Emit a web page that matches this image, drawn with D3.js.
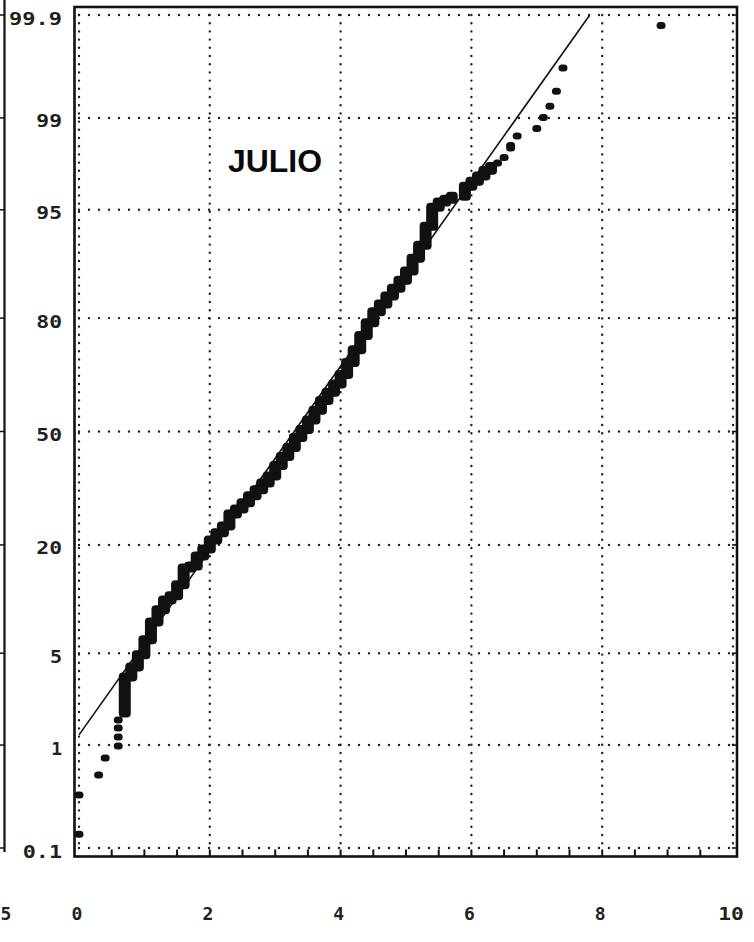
<!DOCTYPE html>
<html><head><meta charset="utf-8">
<script src="https://cdn.jsdelivr.net/npm/d3@7"></script>
<style>html,body{margin:0;padding:0;background:#fff;}svg{display:block}</style>
</head><body>
<svg id="chart" width="754" height="942"></svg>
<script>
// ---------- data ----------
const title = "JULIO";
const xTicks = [0, 2, 4, 6, 8, 10];
const xTickLabels = ["0", "2", "4", "6", "8", "10"];
const pTicks = [0.1, 1, 5, 20, 50, 80, 95, 99, 99.9];
const pTickLabels = ["0.1", "1", "5", "20", "50", "80", "95", "99", "99.9"];

// isolated observations: value and cumulative percent
const pointX = [0, 0, 0.3, 0.4, 0.6, 0.6, 0.6, 0.6,
                6.4, 6.5, 6.6, 6.6, 6.7, 7.0, 7.1, 7.2, 7.3, 7.4, 8.9];
const pointP = [0.14, 0.35, 0.54, 0.77, 0.98, 1.17, 1.39, 1.62,
                97.68, 97.90, 98.23, 98.31, 98.58, 98.77, 99.01, 99.21, 99.42, 99.65, 99.87];

// stacked runs of tied observations: value and cumulative percent at top of run
const runStartP = 1.84;
const runX = [0.7, 0.8, 0.9, 1.0, 1.1, 1.2, 1.3, 1.4, 1.5, 1.6, 1.7, 1.8, 1.9, 2.0,
              2.1, 2.2, 2.3, 2.4, 2.5, 2.6, 2.7, 2.8, 2.9, 3.0, 3.1, 3.2, 3.3, 3.4,
              3.5, 3.6, 3.7, 3.8, 3.9, 4.0, 4.1, 4.2, 4.3, 4.4, 4.5, 4.6, 4.7, 4.8,
              4.9, 5.0, 5.1, 5.2, 5.3, 5.4, 5.5, 5.6, 5.7, 5.9, 6.0, 6.1, 6.2, 6.3];
const runTopP = [3.43, 4.03, 4.89, 6.12, 7.89, 9.30, 10.56, 11.14, 12.76, 15.57, 15.91, 17.80, 19.18, 21.05,
                 22.60, 24.17, 27.04, 28.28, 29.82, 31.64, 33.23, 35.13, 37.08, 40.0, 42.6, 45.3, 48.2, 50.6,
                 53.4, 56.3, 59.1, 61.5, 63.8, 66.4, 69.6, 72.8, 76.2, 79.0, 81.3, 82.8, 84.25, 85.62,
                 86.92, 88.30, 90.08, 91.66, 93.61, 95.19, 95.57, 95.76, 95.95, 96.56, 96.83, 97.10, 97.37, 97.54];

// fitted normal line (end points)
const fitX = [0, 7.81];
const fitP = [1.22, 99.9];

// ---------- probability scale helper (inverse normal CDF) ----------
function probit(pct) {
  const p = pct / 100;
  const q = p < 0.5 ? p : 1 - p;
  const t = Math.sqrt(-2 * Math.log(q));
  const z = t - (2.515517 + 0.802853 * t + 0.010328 * t * t) /
                (1 + 1.432788 * t + 0.189269 * t * t + 0.001308 * t * t * t);
  return p < 0.5 ? -z : z;
}

const svg = d3.select("#chart");
const ink = "#111";
const textCol = "#1b231b";
const monoFont = "DejaVu Sans Mono, monospace";

const x = d3.scaleLinear().domain([0, 10]).range([79, 733]);
const zScale = d3.scaleLinear().domain([probit(0.1), probit(99.9)]).range([848, 15]);
const y = p => zScale(probit(p));

const frame = {l: 74.5, r: 737, t: 7, b: 856.5};
const labelLen = s => (s === "1" ? null : s.length * 13.6 - 1.5);

// neighbouring panel remnant at left edge
svg.append("line").attr("x1", 4.5).attr("x2", 4.5).attr("y1", 0).attr("y2", 852)
  .attr("stroke", ink).attr("stroke-width", 2.2);
svg.selectAll("line.nbt").data(pTicks).join("line").attr("class", "nbt")
  .attr("x1", 0).attr("x2", 4.5).attr("y1", d => y(d)).attr("y2", d => y(d))
  .attr("stroke", ink).attr("stroke-width", 1.5);
svg.append("text").attr("x", 0.5).attr("y", 913).attr("text-anchor", "start")
  .attr("dominant-baseline", "central")
  .attr("font-family", monoFont).attr("font-weight", "bold")
  .attr("font-size", 18).attr("fill", textCol).text("5");

// grid: horizontal dotted lines
svg.append("g").selectAll("line").data(pTicks).join("line")
  .attr("x1", x(0)).attr("x2", x(10)).attr("y1", d => y(d)).attr("y2", d => y(d))
  .attr("stroke", "#222").attr("stroke-width", 2.4).attr("stroke-linecap", "round")
  .attr("stroke-dasharray", "0 10");
// grid: vertical dotted lines
svg.append("g").selectAll("line").data(xTicks).join("line")
  .attr("x1", d => x(d)).attr("x2", d => x(d)).attr("y1", y(99.9)).attr("y2", y(0.1))
  .attr("stroke", "#222").attr("stroke-width", 2.4).attr("stroke-linecap", "round")
  .attr("stroke-dasharray", "0 8.2");

// frame
svg.append("rect").attr("x", frame.l).attr("y", frame.t)
  .attr("width", frame.r - frame.l).attr("height", frame.b - frame.t)
  .attr("fill", "none").attr("stroke", ink).attr("stroke-width", 2.6);

// minor ticks on bottom frame every 0.5
const minor = d3.range(1, 20).map(i => i * 0.5);
svg.append("g").selectAll("line").data(minor).join("line")
  .attr("x1", d => x(d)).attr("x2", d => x(d)).attr("y1", frame.b).attr("y2", frame.b - 7)
  .attr("stroke", ink).attr("stroke-width", 2);
// ticks on right frame
svg.append("g").selectAll("line").data(pTicks).join("line")
  .attr("x1", frame.r).attr("x2", frame.r - 5).attr("y1", d => y(d)).attr("y2", d => y(d))
  .attr("stroke", ink).attr("stroke-width", 1.6);

// fitted line
svg.append("line")
  .attr("x1", x(fitX[0])).attr("y1", y(fitP[0]))
  .attr("x2", x(fitX[1])).attr("y2", y(fitP[1]))
  .attr("stroke", ink).attr("stroke-width", 1.6);

// stacked runs
const runs = runX.map((v, i) => ({v, top: runTopP[i], bot: i === 0 ? runStartP : runTopP[i - 1]}));
svg.append("g").selectAll("rect").data(runs).join("rect")
  .attr("x", d => x(d.v) - 6).attr("width", 12)
  .attr("y", d => y(d.top) - 4.5)
  .attr("height", d => y(d.bot) - y(d.top) + 9)
  .attr("rx", 4).attr("fill", ink);

// isolated points
svg.append("g").selectAll("rect").data(pointX.map((v, i) => ({v, p: pointP[i]}))).join("rect")
  .attr("x", d => x(d.v) - 4.5).attr("width", 9)
  .attr("y", d => y(d.p) - 3.5).attr("height", 7)
  .attr("rx", 3.5).attr("fill", ink);

// y labels
svg.append("g").selectAll("text").data(pTicks).join("text")
  .attr("x", 62).attr("y", d => y(d) + 3).attr("text-anchor", "end")
  .attr("dominant-baseline", "central")
  .attr("font-family", monoFont).attr("font-weight", "bold")
  .attr("font-size", 18).attr("fill", textCol)
  .each(function (d, i) {
    const s = pTickLabels[i];
    const L = labelLen(s);
    const t = d3.select(this).text(s);
    if (L) t.attr("textLength", L).attr("lengthAdjust", "spacingAndGlyphs");
  });

// x labels
svg.append("g").selectAll("text").data(xTicks).join("text")
  .attr("x", d => x(d) - 2).attr("y", 913).attr("text-anchor", "middle")
  .attr("dominant-baseline", "central")
  .attr("font-family", monoFont).attr("font-weight", "bold")
  .attr("font-size", 18).attr("fill", textCol)
  .each(function (d, i) {
    const s = xTickLabels[i];
    const t = d3.select(this).text(s);
    if (s.length > 1) t.attr("textLength", labelLen(s)).attr("lengthAdjust", "spacingAndGlyphs");
  });

// title
svg.append("text").attr("x", 275).attr("y", 172).attr("text-anchor", "middle")
  .attr("font-family", "Liberation Sans, Arial, sans-serif").attr("font-weight", "bold")
  .attr("font-size", 31).attr("textLength", 94).attr("lengthAdjust", "spacingAndGlyphs")
  .attr("fill", "#0a0a0a").text(title);
</script>
</body></html>
